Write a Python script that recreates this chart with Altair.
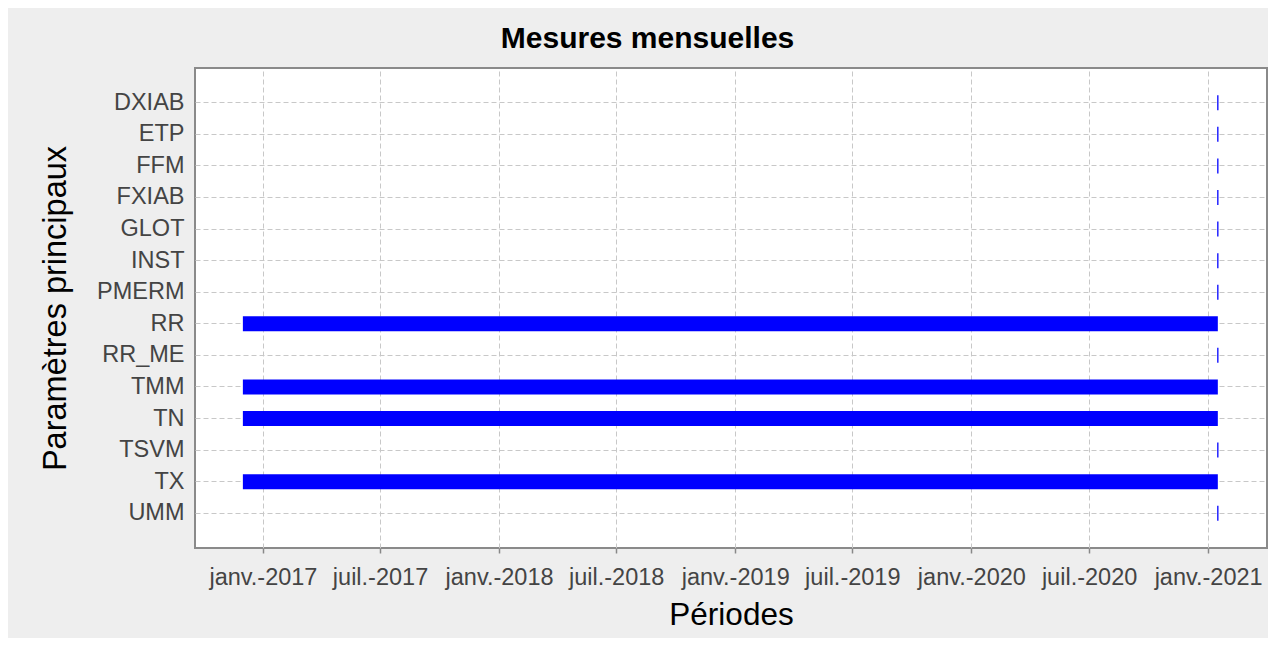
import altair as alt
import pandas as pd

params = ["DXIAB", "ETP", "FFM", "FXIAB", "GLOT", "INST", "PMERM", "RR", "RR_ME", "TMM", "TN", "TSVM", "TX", "UMM"]
starts = ["2021-01-15", "2021-01-15", "2021-01-15", "2021-01-15", "2021-01-15", "2021-01-15", "2021-01-15",
          "2016-12-01", "2021-01-15", "2016-12-01", "2016-12-01", "2021-01-15", "2016-12-01", "2021-01-15"]
ends = ["2021-01-17", "2021-01-17", "2021-01-17", "2021-01-17", "2021-01-17", "2021-01-17", "2021-01-17",
        "2021-01-16", "2021-01-17", "2021-01-16", "2021-01-16", "2021-01-17", "2021-01-16", "2021-01-17"]
tick_dates = ["2017-01-01", "2017-07-01", "2018-01-01", "2018-07-01", "2019-01-01",
              "2019-07-01", "2020-01-01", "2020-07-01", "2021-01-01"]
x_domain = ["2016-09-18", "2021-04-02"]

df = pd.DataFrame({"param": params, "start": starts, "end": ends})

tick_vals = [alt.DateTime(year=int(d[:4]), month=int(d[5:7]), date=1, utc=True) for d in tick_dates]
dom = [alt.DateTime(year=int(d[:4]), month=int(d[5:7]), date=int(d[8:]), utc=True) for d in x_domain]

FONT = "Liberation Sans"

chart = alt.Chart(df).mark_bar(size=15, color="#0000ff").encode(
    x=alt.X("start:T",
            scale=alt.Scale(type="utc", domain=dom),
            axis=alt.Axis(values=tick_vals, title="Périodes",
                          labelExpr="(utcmonth(datum.value) == 0 ? 'janv.-' : 'juil.-') + utcyear(datum.value)",
                          labelFontSize=23.5, labelColor="#444444", labelFont=FONT,
                          labelPadding=12, tickSize=5, tickColor="#888888", tickWidth=1.5,
                          titleFontSize=31.5, titleFont=FONT, titleFontWeight="normal",
                          titleColor="#000000", titlePadding=11,
                          grid=True, gridColor="#c8c8c8", gridDash=[5, 3], gridWidth=1,
                          domain=False, labelOverlap=False, labelFlush=False)),
    x2="end:T",
    y=alt.Y("param:N", sort=params,
            scale=alt.Scale(paddingInner=0, paddingOuter=0.6),
            axis=alt.Axis(title="Paramètres principaux",
                          labelFontSize=23.5, labelColor="#444444", labelFont=FONT,
                          labelPadding=11, ticks=False,
                          titleFontSize=32.5, titleFont=FONT, titleFontWeight="normal",
                          titleColor="#000000", titlePadding=24,
                          grid=True, gridColor="#c8c8c8", gridDash=[5, 3], gridWidth=1,
                          domain=False)),
).properties(
    width=1072, height=480,
    title=alt.TitleParams("Mesures mensuelles", fontSize=30, font=FONT,
                          fontWeight="bold", color="#000000", anchor="middle", dx=-83.5, offset=14),
    autosize=alt.AutoSizeParams(type="none"),
    padding={"left": 187, "top": 60, "right": 1, "bottom": 90},
    background="#eeeeee",
).configure_view(stroke="#8a8a8a", strokeWidth=2, fill="#ffffff")

chart.save("out.html", embed_options={"renderer": "svg", "actions": False})
